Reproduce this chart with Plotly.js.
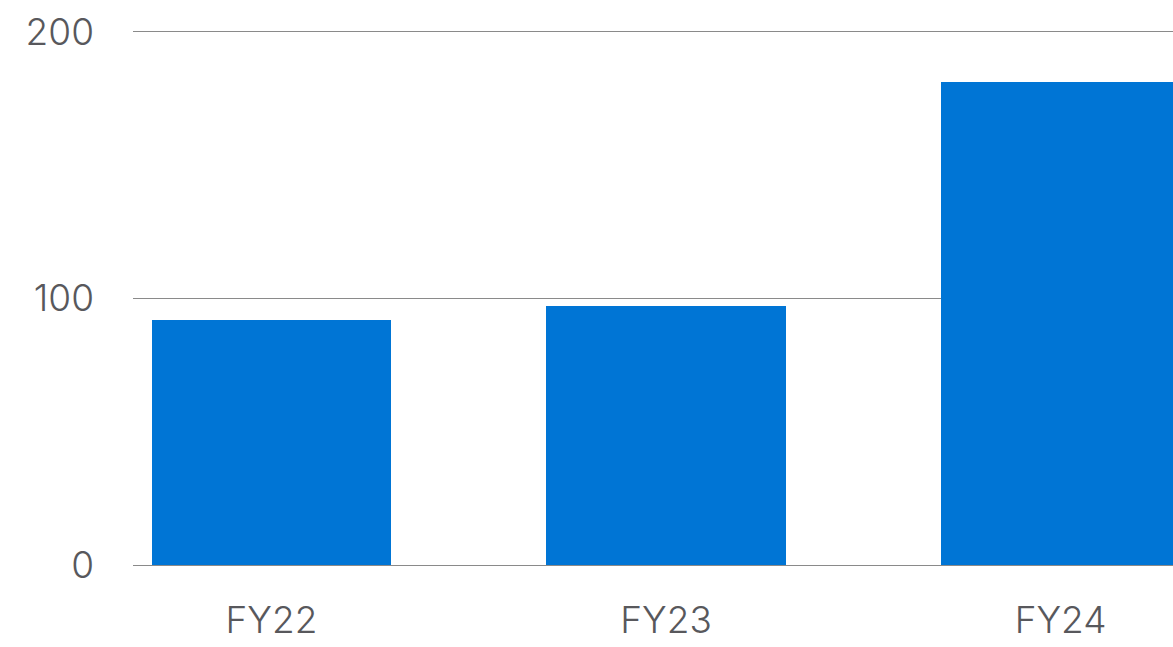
<!DOCTYPE html>
<html>
<head>
<meta charset="utf-8">
<script src="https://cdn.plot.ly/plotly-3.0.1.min.js"></script>
<style>html,body{margin:0;padding:0;background:#fff;}#chart{width:1173px;height:647px;}</style>
</head>
<body>
<div id="chart"></div>
<script>
const categories = ["FY22", "FY23", "FY24"];
const values = [92.1, 97.2, 181.2];
const yTickValues = [0, 100, 200];
const yTickLabels = ["0", "100", "200"];

const textColor = "#58585c";
const fontFamily = "Inter, 'Liberation Sans', Arial, sans-serif";

Plotly.newPlot("chart", [{
  type: "bar",
  x: categories,
  y: values,
  width: 0.606,
  marker: {color: "#0075D5"},
  hoverinfo: "skip"
}], {
  width: 1173,
  height: 647,
  margin: {l: 133, r: 0, t: 29, b: 82},
  paper_bgcolor: "#fff",
  plot_bgcolor: "#fff",
  showlegend: false,
  bargap: 0,
  xaxis: {
    type: "category",
    range: [-0.351, 2.285],
    showgrid: false,
    showline: false,
    zeroline: false,
    ticks: "",
    ticklabelstandoff: 30,
    tickfont: {family: fontFamily, size: 37, color: textColor, weight: 300}
  },
  yaxis: {
    range: [0, 201.1],
    tickvals: yTickValues,
    ticktext: yTickLabels,
    showgrid: true,
    gridcolor: "#8a8a8a",
    gridwidth: 1,
    zeroline: true,
    zerolinecolor: "#8a8a8a",
    zerolinewidth: 1,
    showline: false,
    ticks: "",
    ticklabelstandoff: 38,
    tickfont: {family: fontFamily, size: 37, color: textColor, weight: 300}
  }
}, {staticPlot: true, displayModeBar: false});
</script>
</body>
</html>
